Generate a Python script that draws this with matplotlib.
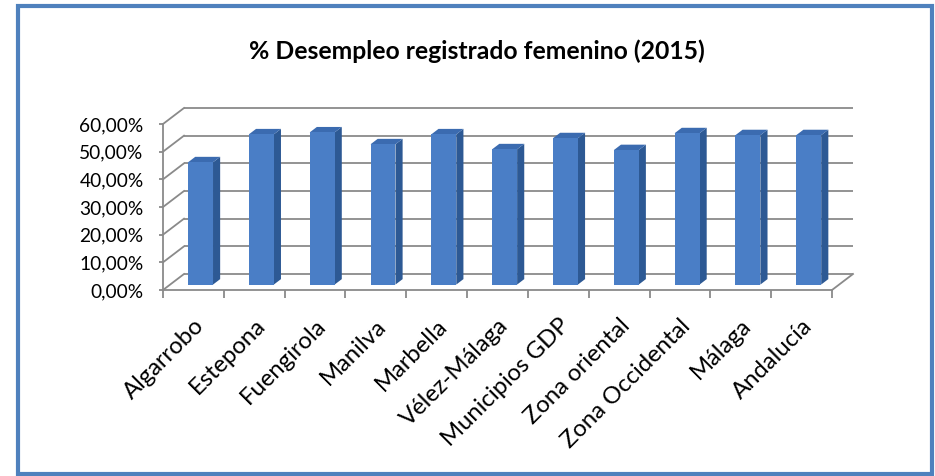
import matplotlib
matplotlib.use("Agg")
import matplotlib.pyplot as plt
from matplotlib.patches import Polygon, Rectangle
from matplotlib.ticker import FixedLocator, FuncFormatter

# Registered female unemployment share (%), 2015
categories = ["Algarrobo", "Estepona", "Fuengirola", "Manilva", "Marbella",
              "Vélez-Málaga", "Municipios GDP", "Zona oriental",
              "Zona Occidental", "Málaga", "Andalucía"]
values = [44.2, 54.3, 55.0, 50.7, 54.3, 48.9, 52.9, 48.6, 54.7, 54.0, 54.0]
y_ticks = [0, 10, 20, 30, 40, 50, 60]
title = "% Desempleo registrado femenino (2015)"

W, H = 935, 476
fig = plt.figure(figsize=(W / 100, H / 100), dpi=100)
fig.patch.set_facecolor("white")
renderer = fig.canvas.get_renderer()


def size_for_width(s, target_px, weight="normal", family="Lato"):
    """Font size (pt) at which string s is target_px wide."""
    t = fig.text(0, 0, s, fontsize=10, fontweight=weight, family=family)
    w = t.get_window_extent(renderer).width
    t.remove()
    return 10 * target_px / w


ytick_fs = size_for_width("60,00%", 64)
xtick_fs = size_for_width("Zona Occidental", 172)
title_fs = size_for_width(title, 458, weight="bold")

# front plane of the 3-D box, in pixels
x0, x1 = 163, 832
y_top, y_bot = 124, 290
ax = fig.add_axes([x0 / W, 1 - y_bot / H, (x1 - x0) / W, (y_bot - y_top) / H])
n = len(categories)
ax.set_xlim(-0.5, n - 0.5)
ax.set_ylim(0, 60)
ax.set_facecolor("none")

# depth of the box expressed in data units
px_x = n / (x1 - x0)
px_y = 60 / (y_bot - y_top)
DX, DY = 21 * px_x, 16 * px_y

grid_col = "#8a8a8a"
glw = 1.3

# back wall gridlines and left wall diagonals
for v in y_ticks:
    ax.plot([-0.5 + DX, n - 0.5 + DX], [v + DY, v + DY], color=grid_col,
            lw=glw, clip_on=False, zorder=1, solid_capstyle="butt")
    ax.plot([-0.5, -0.5 + DX], [v, v + DY], color=grid_col, lw=glw,
            clip_on=False, zorder=1)
# right edge of the floor
ax.plot([n - 0.5, n - 0.5 + DX], [0, DY], color=grid_col, lw=glw,
        clip_on=False, zorder=1)

# 3-D bars
d0, d1 = 0.34, 0.68
bw = 0.41
front_c = "#4a7ec6"
side_c = "#2d5994"
top_c = "#3b6bb0"
for i, v in enumerate(values):
    fx = i + d0 * DX
    fy = d0 * DY
    bx = i + d1 * DX
    by = d1 * DY
    l, r = fx - bw / 2, fx + bw / 2
    bl, br = bx - bw / 2, bx + bw / 2
    # right side face
    ax.add_patch(Polygon([(r, fy), (r, fy + v), (br, by + v), (br, by)],
                         closed=True, fc=side_c, ec="none", zorder=3,
                         clip_on=False))
    # top face
    ax.add_patch(Polygon([(l, fy + v), (r, fy + v), (br, by + v), (bl, by + v)],
                         closed=True, fc=top_c, ec="none", zorder=3,
                         clip_on=False))
    # front face
    ax.add_patch(Rectangle((l, fy), bw, v, fc=front_c, ec="none", zorder=4,
                           clip_on=False))

# axes lines of the front plane
for s in ["top", "right"]:
    ax.spines[s].set_visible(False)
for s in ["left", "bottom"]:
    ax.spines[s].set_color(grid_col)
    ax.spines[s].set_linewidth(glw)
    ax.spines[s].set_zorder(2)

ax.yaxis.set_major_locator(FixedLocator(y_ticks))
ax.yaxis.set_major_formatter(
    FuncFormatter(lambda v, p: f"{v:.2f}".replace(".", ",") + "%"))
ax.tick_params(axis="y", length=3, width=glw, color=grid_col, pad=11,
               labelsize=ytick_fs, labelcolor="black")

ax.xaxis.set_major_locator(FixedLocator([k - 0.5 for k in range(n + 1)]))
ax.xaxis.set_major_formatter(FuncFormatter(lambda v, p: ""))
ax.xaxis.set_minor_locator(FixedLocator(list(range(n))))
ax.set_xticklabels(categories, minor=True)
ax.tick_params(axis="x", which="major", length=6, width=glw, color=grid_col)
ax.tick_params(axis="x", which="minor", length=0, pad=18, labelsize=xtick_fs,
               labelcolor="black")
for lab in ax.get_xticklabels(minor=True):
    lab.set_rotation(45)
    lab.set_ha("right")
    lab.set_va("top")
    lab.set_rotation_mode("anchor")

for lab in ax.get_yticklabels() + ax.get_xticklabels(minor=True):
    lab.set_fontfamily("Lato")

fig.text(477 / W, 1 - 51 / H, title, ha="center", va="center",
         fontsize=title_fs, fontweight="bold", family="Lato")

# chart frame
fig.patches.append(Rectangle((18 / W, 2 / H), (931.5 - 18) / W, (470 - 2) / H,
                             transform=fig.transFigure, fill=False,
                             ec="#4f81bd", lw=3, zorder=10))

fig.savefig("out.png", dpi=100, facecolor="white")
